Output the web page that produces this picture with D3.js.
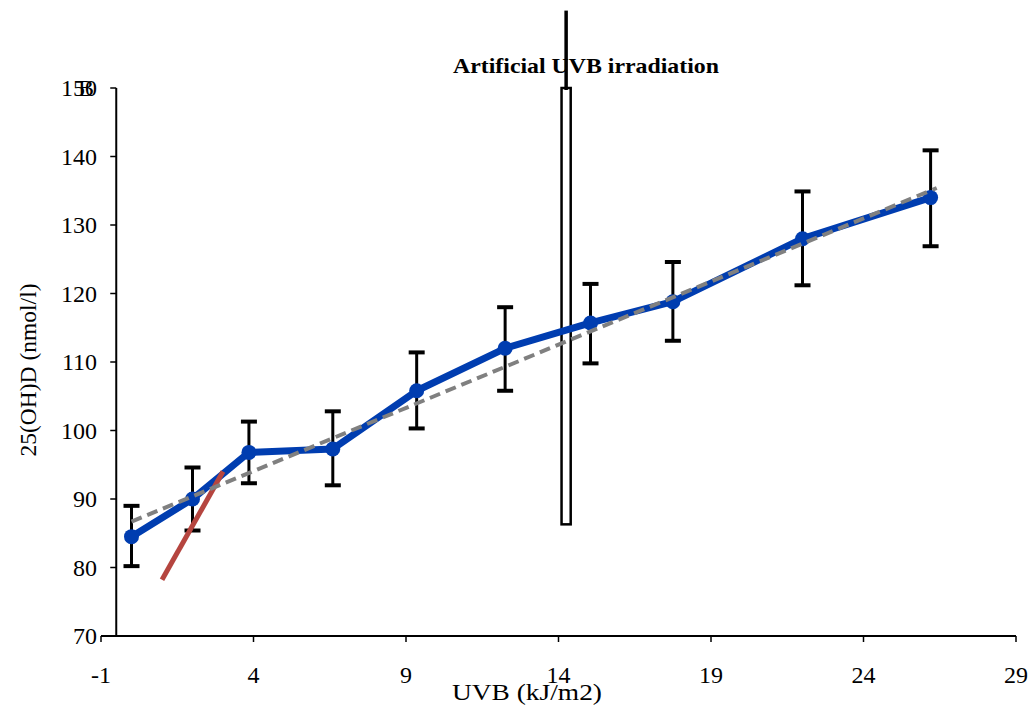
<!DOCTYPE html>
<html>
<head>
<meta charset="utf-8">
<script src="https://cdn.jsdelivr.net/npm/d3@7"></script>
<style>
  body { margin: 0; background: #fff; }
</style>
</head>
<body>
<div id="d3-container"></div>
<script>
// data
const uvb = [0, 2, 3.85, 6.6, 9.35, 12.25, 15.05, 17.75, 22, 26.2];
const vitD = [84.5, 90, 96.8, 97.3, 105.8, 112, 115.7, 118.8, 128, 134];
const errHigh = [89, 94.6, 101.3, 102.8, 111.4, 118, 121.4, 124.6, 134.9, 140.9];
const errLow = [80.2, 85.4, 92.3, 92, 100.3, 105.8, 109.8, 113.1, 121.2, 126.9];
const trendX = [0, 26.4];
const trendY = [86.7, 135.4];
const redX = [1.0, 3.0];
const redY = [78.2, 94.0];
const markerX = [14.1, 14.4];
const markerY = [86.3, 150];
const markerLineTop = 161.3;
const xTicks = [-1, 4, 9, 14, 19, 24, 29];
const yTicks = [70, 80, 90, 100, 110, 120, 130, 140, 150];
const yAxisAt = -0.5;

const width = 1031, height = 710;
const margin = { top: 88, bottom: 74, left: 101, right: 15 };
const serif = '"Liberation Serif", "Times New Roman", serif';

const svg = d3.select("#d3-container")
  .append("svg")
  .attr("width", width)
  .attr("height", height);

const x = d3.scaleLinear().domain([-1, 29]).range([margin.left, width - margin.right]);
const y = d3.scaleLinear().domain([70, 150]).range([height - margin.bottom, margin.top]);

// x axis
svg.append("line")
  .attr("x1", x(-1)).attr("x2", x(29))
  .attr("y1", y(70)).attr("y2", y(70))
  .attr("stroke", "#000").attr("stroke-width", 2);
svg.selectAll(".xtick")
  .data(xTicks)
  .join("line")
  .attr("class", "xtick")
  .attr("x1", d => x(d)).attr("x2", d => x(d))
  .attr("y1", y(70)).attr("y2", y(70) + 6)
  .attr("stroke", "#000").attr("stroke-width", 1.5);
svg.selectAll(".xlab")
  .data(xTicks)
  .join("text")
  .attr("class", "xlab")
  .attr("x", d => x(d))
  .attr("y", y(70) + 47)
  .attr("text-anchor", "middle")
  .style("font-family", serif)
  .style("font-size", "24px")
  .text(d => d);

// y axis
svg.append("line")
  .attr("x1", x(yAxisAt)).attr("x2", x(yAxisAt))
  .attr("y1", y(70)).attr("y2", y(150))
  .attr("stroke", "#000").attr("stroke-width", 2);
svg.selectAll(".ytick")
  .data(yTicks)
  .join("line")
  .attr("class", "ytick")
  .attr("x1", x(yAxisAt) - 6).attr("x2", x(yAxisAt))
  .attr("y1", d => y(d)).attr("y2", d => y(d))
  .attr("stroke", "#000").attr("stroke-width", 1.5);
svg.selectAll(".ylab")
  .data(yTicks)
  .join("text")
  .attr("class", "ylab")
  .attr("x", 97)
  .attr("y", d => y(d) + 8)
  .attr("text-anchor", "end")
  .style("font-family", serif)
  .style("font-size", "24px")
  .text(d => d);

// panel letter overlapping the top tick label
svg.append("text")
  .attr("x", 78).attr("y", y(150) + 8)
  .style("font-family", serif)
  .style("font-size", "24px")
  .text("B");

// axis titles
svg.append("text")
  .attr("x", 527).attr("y", 700)
  .attr("text-anchor", "middle")
  .attr("textLength", 150)
  .attr("lengthAdjust", "spacingAndGlyphs")
  .style("font-family", serif)
  .style("font-size", "23px")
  .text("UVB (kJ/m2)");
svg.append("text")
  .attr("transform", `translate(36,370) rotate(-90)`)
  .attr("text-anchor", "middle")
  .attr("textLength", 173)
  .attr("lengthAdjust", "spacingAndGlyphs")
  .style("font-family", serif)
  .style("font-size", "23px")
  .text("25(OH)D (nmol/l)");

// artificial irradiation marker
svg.append("rect")
  .attr("x", x(markerX[0]))
  .attr("y", y(markerY[1]))
  .attr("width", x(markerX[1]) - x(markerX[0]))
  .attr("height", y(markerY[0]) - y(markerY[1]))
  .attr("fill", "none")
  .attr("stroke", "#000").attr("stroke-width", 2.5);
svg.append("line")
  .attr("x1", x(d3.mean(markerX))).attr("x2", x(d3.mean(markerX)))
  .attr("y1", y(markerLineTop)).attr("y2", y(markerY[1]) + 2)
  .attr("stroke", "#000").attr("stroke-width", 3.5);
svg.append("text")
  .attr("x", 586).attr("y", 73)
  .attr("text-anchor", "middle")
  .attr("textLength", 266)
  .attr("lengthAdjust", "spacingAndGlyphs")
  .style("font-family", serif)
  .style("font-size", "21px")
  .style("font-weight", "bold")
  .text("Artificial UVB irradiation");

// error bars
const pts = uvb.map((d, i) => ({ x: d, y: vitD[i], hi: errHigh[i], lo: errLow[i] }));
const eb = svg.append("g");
eb.selectAll(".stem")
  .data(pts)
  .join("line")
  .attr("x1", d => x(d.x)).attr("x2", d => x(d.x))
  .attr("y1", d => y(d.hi)).attr("y2", d => y(d.lo))
  .attr("stroke", "#000").attr("stroke-width", 3);
eb.selectAll(".capHi")
  .data(pts)
  .join("line")
  .attr("x1", d => x(d.x) - 8).attr("x2", d => x(d.x) + 8)
  .attr("y1", d => y(d.hi)).attr("y2", d => y(d.hi))
  .attr("stroke", "#000").attr("stroke-width", 4);
eb.selectAll(".capLo")
  .data(pts)
  .join("line")
  .attr("x1", d => x(d.x) - 8).attr("x2", d => x(d.x) + 8)
  .attr("y1", d => y(d.lo)).attr("y2", d => y(d.lo))
  .attr("stroke", "#000").attr("stroke-width", 4);

// blue series
const line = d3.line().x(d => x(d.x)).y(d => y(d.y));
svg.append("path")
  .datum(pts)
  .attr("d", line)
  .attr("fill", "none")
  .attr("stroke", "#003db0")
  .attr("stroke-width", 7)
  .attr("stroke-linejoin", "round");
svg.selectAll(".dot")
  .data(pts)
  .join("circle")
  .attr("class", "dot")
  .attr("cx", d => x(d.x)).attr("cy", d => y(d.y))
  .attr("r", 7.5)
  .attr("fill", "#003db0");

// red line
svg.append("line")
  .attr("x1", x(redX[0])).attr("y1", y(redY[0]))
  .attr("x2", x(redX[1])).attr("y2", y(redY[1]))
  .attr("stroke", "#b5453f").attr("stroke-width", 5);

// linear trend (dashed)
svg.append("line")
  .attr("x1", x(trendX[0])).attr("y1", y(trendY[0]))
  .attr("x2", x(trendX[1])).attr("y2", y(trendY[1]))
  .attr("stroke", "#808080").attr("stroke-width", 4)
  .attr("stroke-dasharray", "11,6");
</script>
</body>
</html>
